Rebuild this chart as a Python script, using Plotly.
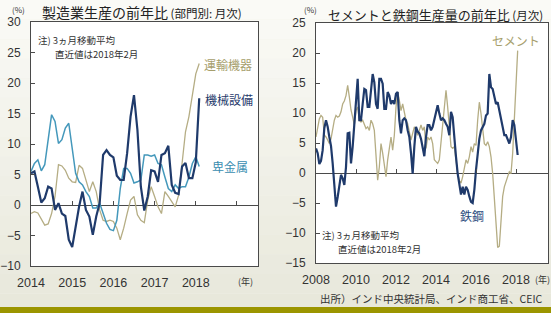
import plotly.graph_objects as go

W, H = 551, 313

# ---------------- data ----------------
left_start_year = 2014
machinery = [5.2, 5.5, 3.0, 0.4, 1.1, 3.0, 2.7, -0.8, 0.3, -1.4,
             -1.8, -5.7, -6.9, -3.6, -0.3, 2.2, -0.8, -1.9, -4.9, -1.9,
             0.3, 8.2, 9.0, 8.2, 7.8, 4.8, 4.1, 4.1, 8.5, 14.5,
             18.0, 12.3, 3.0, -0.9, 1.4, 5.7, 5.5, 3.8, 8.2, 8.5,
             9.7, 3.3, 2.0, 1.8, 6.3, 6.9, 4.4, 4.4, 7.0, 17.5]
base_metals = [5.5, 6.8, 7.4, 5.6, 6.6, 11.2, 14.8, 13.7, 10.1, 10.7,
               12.6, 13.4, 9.6, 5.2, 3.8, 3.3, 2.2, 1.4, -0.5, -0.5,
               0.3, -1.4, -3.0, -4.0, -4.2, -2.5, 2.7, 6.0, 6.0, 5.2,
               3.6, 3.8, 4.1, 8.2, 8.2, 8.0, 8.2, 6.8, 6.6, 4.6,
               2.7, 2.2, 3.3, 2.7, 3.0, 3.0, 4.6, 6.8, 7.9, 6.3]
transport = [-1.4, -1.1, -1.3, -2.2, -3.3, -3.1, -1.4, 1.4, 6.6, 6.4,
             5.7, 4.4, 3.8, 3.7, 6.5, 6.0, 4.1, 2.2, 3.8, 2.2,
             -0.8, -2.5, -2.7, -2.5, -2.7, -3.8, -5.7, -3.8, -1.4, 0.8,
             1.4, -1.6, -2.5, -2.9, 0.8, 3.0, 1.4, -0.3, -1.4, 2.2,
             1.4, 0.5, -0.3, 1.6, 6.3, 12.0, 14.5, 18.0, 21.5, 23.2]

right_start_year = 2008
steel = [4.1, 3.3, 1.5, 2.0, 3.8, 7.5, 8.8, 7.7, 6.0, 4.5,
         1.6, -2.8, -5.6, -4.0, -2.3, -0.3, -0.9, -2.0, 1.0, 6.6,
         6.7, 1.6, 4.4, 8.0, 11.0, 15.7, 8.8, 8.8, 11.5, 14.0,
         13.8, 11.0, 11.0, 14.3, 16.5, 15.1, 11.5, 10.7, 15.7, 15.7,
         14.9, 10.7, 10.7, 13.5, 12.9, 11.5, 12.1, 11.5, 13.2, 13.5,
         8.8, 6.6, 8.8, 9.1, 8.8, 7.1, 6.0, 3.3, -0.1, 4.4,
         7.7, 6.9, 6.6, 5.7, 4.4, 2.8, 6.0, 8.0, 8.0, 7.1,
         7.7, 8.8, 10.4, 11.3, 9.9, 8.8, 9.1, 8.8, 8.2, 7.7,
         6.3, 10.2, 9.3, 5.5, 2.7, -0.1, -1.7, -3.6, -2.3, -3.6,
         -2.3, -2.8, -3.9, -4.8, -5.0, -2.8, 0.5, 3.8, 5.7, 7.1,
         7.7, 8.2, 9.6, 9.9, 16.5, 14.3, 14.0, 12.9, 11.5, 11.8,
         10.4, 9.3, 8.2, 6.3, 6.3, 5.7, 4.9, 6.0, 8.8, 8.0,
         5.2, 3.0]
cement = [6.0, 7.7, 9.0, 9.6, 9.3, 6.3, 6.0, 5.5, 4.9, 5.7,
          7.5, 8.8, 9.6, 9.3, 9.5, 10.2, 11.5, 12.0, 12.9, 14.6,
          12.7, 10.5, 9.3, 8.0, 10.4, 11.0, 8.8, 8.5, 8.8, 8.2,
          7.4, 7.7, 7.1, 8.8, 8.2, 7.1, 2.2, -1.2, 1.0, 4.9,
          3.3, 1.0, -0.6, 2.2, 4.4, 6.0, 3.8, 6.3, 11.0, 13.5,
          12.1, 10.4, 11.5, 10.2, 8.8, 8.2, 7.1, 5.5, 6.6, 7.7,
          7.1, 6.3, 7.1, 8.0, 7.1, 7.7, 4.1, 6.0, 5.5, 6.0,
          4.9, 2.2, 1.9, 1.6, 2.2, 4.9, 7.7, 11.5, 13.8, 11.0,
          7.1, 4.4, 4.1, 4.4, 2.2, -0.1, -1.2, -1.7, -0.6, 1.0,
          2.2, 1.6, 2.7, 4.4, 3.5, 4.9, 4.6, 8.8, 11.8, 9.9,
          7.1, 4.9, 4.6, 5.2, 4.4, 2.7, -0.1, -4.5, -8.9, -12.4,
          -12.2, -7.8, -3.9, -2.3, -1.2, -0.6, 0.2, -0.1, 3.3, 8.8,
          14.3, 20.4]

left_ticks = [2014, 2015, 2016, 2017, 2018]
left_ticktext = ["2014", "2015", "2016", "2017", "2018"]
left_minor = [2015, 2016, 2017, 2018, 2019]
right_ticks = [2008, 2010, 2012, 2014, 2016, 2018]
right_ticktext = ["2008", "2010", "2012", "2014", "2016", "2018"]
right_minor = [2010, 2012, 2014, 2016, 2018]

x_left = [left_start_year + i / 12 for i in range(len(machinery))]
x_right = [right_start_year + i / 12 for i in range(len(steel))]

# ---------------- style ----------------
NAVY = "#1f3a6b"
TEAL = "#4498bb"
KHAKI = "#b5ad84"
KHAKI_TXT = "#a69e6c"
AXIS = "#4a4a4a"
TXT = "#333333"
JP = "Noto Sans CJK JP"
NUM = "Liberation Sans"


def px(x):
    return x / W


def py(y):
    return 1 - y / H


L_DOM_X = [px(31), px(258)]
L_DOM_Y = [py(266), py(22)]
R_DOM_X = [px(316), px(548)]
R_DOM_Y = [py(263), py(23)]
L_RANGE = [-10, 30]
R_RANGE = [-15, 25]
L_ZERO = L_DOM_Y[0] + (0 - L_RANGE[0]) / (L_RANGE[1] - L_RANGE[0]) * (L_DOM_Y[1] - L_DOM_Y[0])
R_ZERO = R_DOM_Y[0] + (0 - R_RANGE[0]) / (R_RANGE[1] - R_RANGE[0]) * (R_DOM_Y[1] - R_DOM_Y[0])

fig = go.Figure()

fig.add_trace(go.Scatter(x=x_left, y=transport, mode="lines", line=dict(color=KHAKI, width=1.3),
                         xaxis="x", yaxis="y", hoverinfo="skip"))
fig.add_trace(go.Scatter(x=x_left, y=base_metals, mode="lines", line=dict(color=TEAL, width=1.5),
                         xaxis="x", yaxis="y", hoverinfo="skip"))
fig.add_trace(go.Scatter(x=x_left, y=machinery, mode="lines", line=dict(color=NAVY, width=2.2),
                         xaxis="x", yaxis="y", hoverinfo="skip"))
fig.add_trace(go.Scatter(x=x_right, y=cement, mode="lines", line=dict(color=KHAKI, width=1.3),
                         xaxis="x2", yaxis="y2", hoverinfo="skip"))
fig.add_trace(go.Scatter(x=x_right, y=steel, mode="lines", line=dict(color=NAVY, width=2.2),
                         xaxis="x2", yaxis="y2", hoverinfo="skip"))
# empty traces so the zero-line tick axes are drawn
fig.add_trace(go.Scatter(x=[None], y=[None], xaxis="x3", yaxis="y", hoverinfo="skip"))
fig.add_trace(go.Scatter(x=[None], y=[None], xaxis="x4", yaxis="y2", hoverinfo="skip"))

xtickfont = dict(family=NUM, size=12.5, color=TXT)
ytickfont = dict(family=NUM, size=12, color=TXT)

base_x = dict(showgrid=False, zeroline=False, showline=True, linecolor=AXIS, linewidth=1,
              mirror=True, ticks="", tickfont=xtickfont, ticklabelstandoff=5, fixedrange=True,
              automargin=False)
base_y = dict(showgrid=False, showline=True, linecolor=AXIS, linewidth=1, mirror=True,
              ticks="inside", ticklen=4, tickcolor=AXIS, dtick=5, tickfont=ytickfont,
              zeroline=True, zerolinecolor=AXIS, zerolinewidth=1, ticklabelstandoff=7,
              fixedrange=True, automargin=False)

fig.update_layout(
    width=W, height=H, margin=dict(l=0, r=0, t=0, b=0, autoexpand=False),
    paper_bgcolor="#f2f2ea", plot_bgcolor="white", showlegend=False,
    xaxis=dict(base_x, domain=L_DOM_X, range=[2014, 2019.51], anchor="y",
               tickvals=left_ticks, ticktext=left_ticktext),
    yaxis=dict(base_y, domain=L_DOM_Y, range=L_RANGE, anchor="x"),
    xaxis2=dict(base_x, domain=R_DOM_X, range=[2008, 2019.6], anchor="y2",
                tickvals=right_ticks, ticktext=right_ticktext),
    yaxis2=dict(base_y, domain=R_DOM_Y, range=R_RANGE, anchor="x2"),
    xaxis3=dict(overlaying="x", anchor="free", position=L_ZERO, range=[2014, 2019.51],
                tickvals=left_minor, ticks="inside", ticklen=4, tickcolor=AXIS,
                showticklabels=False, showline=False, showgrid=False, zeroline=False,
                fixedrange=True, automargin=False),
    xaxis4=dict(overlaying="x2", anchor="free", position=R_ZERO, range=[2008, 2019.6],
                tickvals=right_minor, ticks="inside", ticklen=4, tickcolor=AXIS,
                showticklabels=False, showline=False, showgrid=False, zeroline=False,
                fixedrange=True, automargin=False),
)

# background gradient bands and footer bar
shapes = []
n = 16
top = (250, 250, 246)
bot = (232, 232, 219)
for k in range(n):
    t = k / (n - 1)
    c = tuple(round(top[j] + (bot[j] - top[j]) * t) for j in range(3))
    shapes.append(dict(type="rect", xref="paper", yref="paper", x0=0, x1=1,
                       y0=1 - (k + 1) / n, y1=1 - k / n, line=dict(width=0),
                       fillcolor="rgb(%d,%d,%d)" % c, layer="below"))
for dx, dy in ((L_DOM_X, L_DOM_Y), (R_DOM_X, R_DOM_Y)):
    shapes.append(dict(type="rect", xref="paper", yref="paper", x0=dx[0], x1=dx[1],
                       y0=dy[0], y1=dy[1], line=dict(width=0), fillcolor="white",
                       layer="below"))
shapes.append(dict(type="rect", xref="paper", yref="paper", x0=0, x1=1, y0=0, y1=py(307),
                   line=dict(width=0), fillcolor="#9b9500", layer="above"))
fig.update_layout(shapes=shapes)


def ann(text, x, y, size, color=TXT, xanchor="left", family=JP):
    fig.add_annotation(text=text, x=px(x), y=py(y), xref="paper", yref="paper",
                       xanchor=xanchor, yanchor="middle", showarrow=False, borderpad=0,
                       font=dict(family=family, size=size, color=color))


ann("製造業生産の前年比<span style='font-size:11.5px'> (部門別: 月次)</span>", 41, 12, 14, "#222222")
ann("セメントと鉄鋼生産量の前年比<span style='font-size:11.5px'> (月次)</span>", 327, 14, 13, "#222222")
ann("(%)", 18, 9, 8, xanchor="center")
ann("(%)", 311, 10, 8, xanchor="center")
ann("注) 3ヵ月移動平均", 37, 40, 9.5)
ann("直近値は2018年2月", 54, 54, 9.5)
ann("注) 3ヵ月移動平均", 321, 235, 9.5)
ann("直近値は2018年2月", 337, 249, 9.5)
ann("運輸機器", 228, 64, 12, KHAKI_TXT, "center")
ann("機械設備", 229, 99, 12, NAVY, "center")
ann("卑金属", 230, 166, 12, "#3a8db0", "center")
ann("セメント", 516, 40, 12, KHAKI_TXT, "center")
ann("鉄鋼", 472, 215, 12, "#2b4c7e", "center")
ann("(年)", 245, 281, 9, xanchor="center")
ann("(年)", 542, 279, 9, xanchor="center")
ann("出所）インド中央統計局、インド商工省、CEIC", 543, 298, 10.5, xanchor="right")

fig.write_html("out.html")
